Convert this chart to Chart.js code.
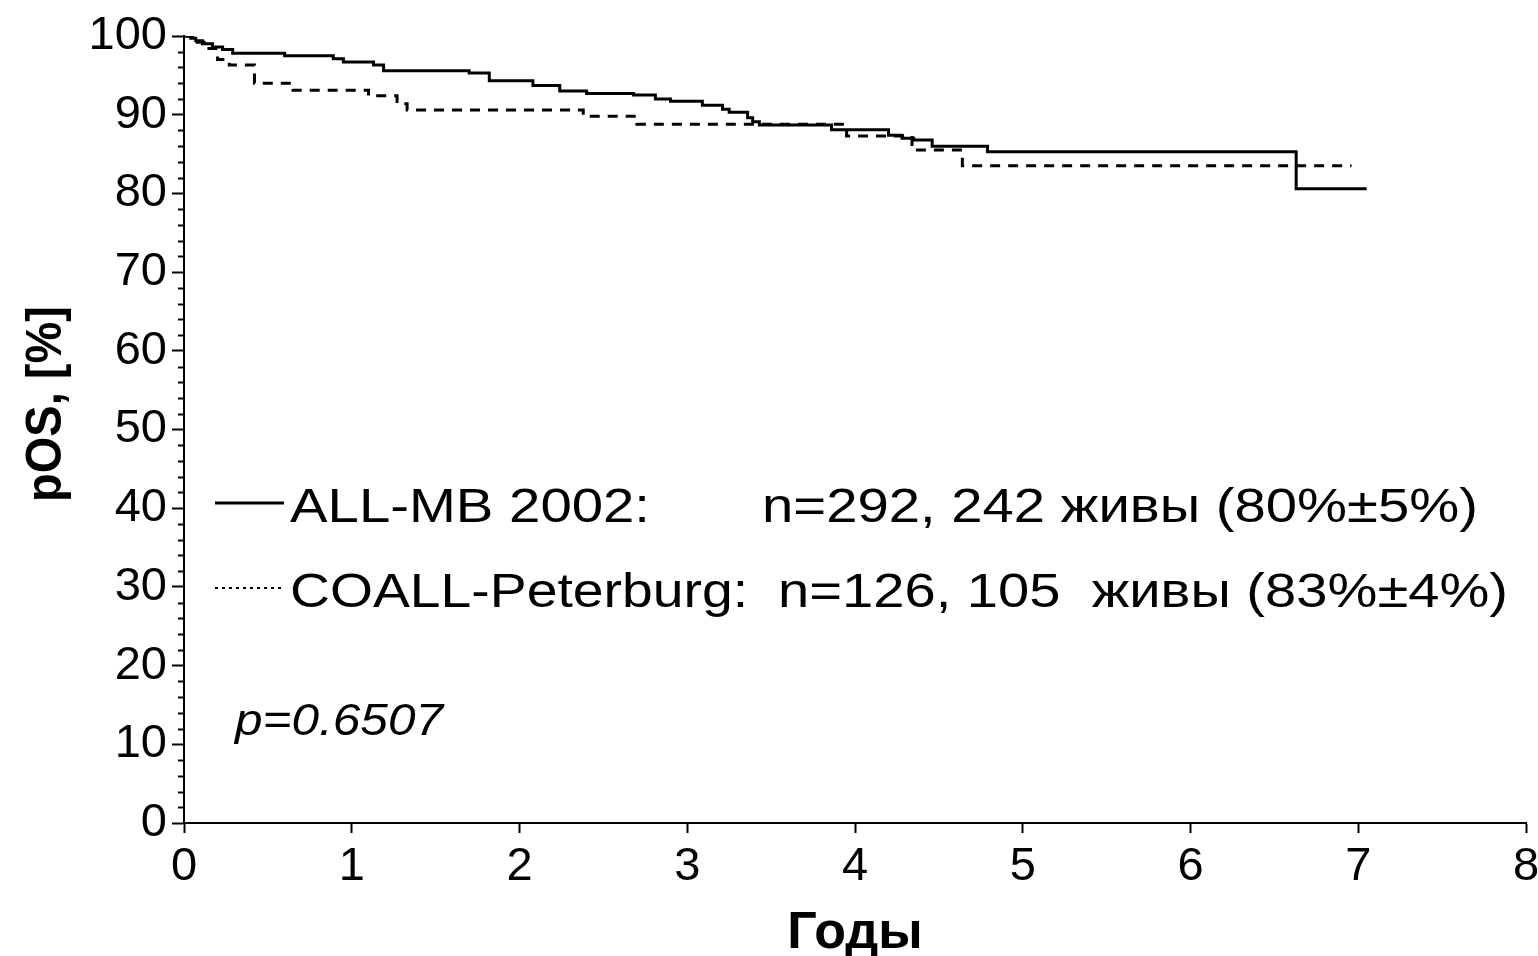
<!DOCTYPE html>
<html lang="ru">
<head>
<meta charset="utf-8">
<title>pOS</title>
<script src="https://cdn.jsdelivr.net/npm/chart.js@4/dist/chart.umd.min.js"></script>
<style>
  html, body { margin: 0; padding: 0; background: #fff; }
</style>
</head>
<body>
<canvas id="chart" width="1538" height="956"></canvas>
<script>
// ALL-MB 2002 curve (years, survival %)
const timeAllMb = [0, 0.04, 0.07, 0.11, 0.17, 0.23, 0.29, 0.60, 0.89, 0.95, 1.13, 1.19, 1.70, 1.82, 2.08, 2.24, 2.40, 2.68, 2.81, 2.90, 3.09, 3.21, 3.25, 3.36, 3.39, 3.43, 3.86, 4.20, 4.28, 4.35, 4.46, 4.79, 6.63, 7.05];
const survAllMb = [100, 99.7, 99.4, 99.0, 98.6, 98.3, 97.8, 97.5, 97.1, 96.7, 96.3, 95.6, 95.3, 94.3, 93.7, 93.0, 92.7, 92.5, 92.0, 91.7, 91.2, 90.7, 90.3, 89.6, 89.1, 88.7, 88.1, 87.4, 87.0, 86.8, 86.0, 85.3, 80.6, 80.6];

// COALL-Peterburg curve
const timeCoall = [0, 0.06, 0.12, 0.20, 0.27, 0.42, 0.65, 1.10, 1.27, 1.33, 2.38, 2.70, 3.95, 4.34, 4.64, 6.96];
const survCoall = [100, 99.2, 98.4, 97.0, 96.3, 94.0, 93.1, 92.4, 91.4, 90.6, 89.8, 88.8, 87.3, 85.5, 83.5, 83.5];

const legendLabels = ['ALL-MB 2002:', 'COALL-Peterburg:'];
const legendStats = ['n=292, 242 живы (80%±5%)', 'n=126, 105  живы (83%±4%)'];
const pValueText = 'p=0.6507';
const xTitle = 'Годы';
const yTitle = 'pOS, [%]';

const FONT = "'Liberation Sans', Arial, sans-serif";

function toPoints(xs, ys) {
    return xs.map((x, i) => ({ x: x, y: ys[i] }));
}

// draw text squeezed/stretched to a given width
function fitText(ctx, text, x, y, w) {
    const m = ctx.measureText(text).width;
    ctx.save();
    ctx.translate(x, y);
    ctx.scale(w / m, 1);
    ctx.fillText(text, 0, 0);
    ctx.restore();
}

const overlay = {
    id: 'overlay',
    afterDraw(chart) {
        const ctx = chart.ctx;
        const yScale = chart.scales.y;
        const left = yScale.right;

        // minor ticks every 2 %
        ctx.save();
        ctx.strokeStyle = '#000';
        ctx.lineWidth = 2;
        for (let v = 2; v < 100; v += 2) {
            if (v % 10 === 0) continue;
            const py = Math.round(yScale.getPixelForValue(v)) + 0.5;
            ctx.beginPath();
            ctx.moveTo(left - 6, py);
            ctx.lineTo(left, py);
            ctx.stroke();
        }
        ctx.restore();

        // y axis title, rotated
        ctx.save();
        ctx.fillStyle = '#000';
        ctx.font = 'bold 50px ' + FONT;
        ctx.textAlign = 'left';
        ctx.textBaseline = 'alphabetic';
        ctx.translate(61, 502);
        ctx.rotate(-Math.PI / 2);
        fitText(ctx, yTitle, 0, 0, 196);
        ctx.restore();

        // legend inside the plot
        const rows = [
            { y: 503, base: 522, labelW: 360, statsX: 762, statsW: 716 },
            { y: 588, base: 607, labelW: 458, statsX: 778, statsW: 730 }
        ];
        ctx.save();
        ctx.fillStyle = '#000';
        ctx.font = '48px ' + FONT;
        ctx.textBaseline = 'alphabetic';
        rows.forEach((r, i) => {
            ctx.strokeStyle = '#000';
            ctx.lineWidth = i === 0 ? 3 : 2;
            ctx.setLineDash(i === 0 ? [] : [3, 4]);
            ctx.beginPath();
            ctx.moveTo(215, r.y);
            ctx.lineTo(284, r.y);
            ctx.stroke();
            ctx.setLineDash([]);
            fitText(ctx, legendLabels[i], 290, r.base, r.labelW);
            fitText(ctx, legendStats[i], r.statsX, r.base, r.statsW);
        });

        ctx.font = 'italic 44px ' + FONT;
        fitText(ctx, pValueText, 235, 735, 208);
        ctx.restore();
    }
};

const ctx = document.getElementById('chart').getContext('2d');
new Chart(ctx, {
    type: 'line',
    data: {
        datasets: [
            {
                label: legendLabels[0],
                data: toPoints(timeAllMb, survAllMb),
                stepped: true,
                borderColor: '#000',
                borderWidth: 3,
                pointRadius: 0,
                fill: false
            },
            {
                label: legendLabels[1],
                data: toPoints(timeCoall, survCoall),
                stepped: true,
                borderColor: '#000',
                borderWidth: 3,
                borderDash: [10, 8],
                pointRadius: 0,
                fill: false
            }
        ]
    },
    options: {
        responsive: false,
        animation: false,
        events: [],
        layout: { padding: { top: 36, right: 12, left: 0, bottom: 0 } },
        plugins: {
            legend: { display: false },
            tooltip: { enabled: false }
        },
        scales: {
            x: {
                type: 'linear',
                min: 0,
                max: 8,
                afterFit: s => {
                    s.height = 133;
                    s.paddingLeft = 0;
                    s.paddingRight = 0;
                },
                ticks: {
                    stepSize: 1,
                    color: '#000',
                    padding: 6,
                    font: { family: FONT, size: 47 }
                },
                grid: { drawOnChartArea: false, tickLength: 10, color: '#000', tickWidth: 2 },
                border: { color: '#000', width: 2 },
                title: {
                    display: true,
                    text: xTitle,
                    color: '#000',
                    padding: { top: 0, bottom: -9 },
                    font: { family: FONT, size: 52, weight: 'bold' }
                }
            },
            y: {
                min: 0,
                max: 100,
                afterFit: s => { s.width = 184; },
                ticks: {
                    stepSize: 10,
                    color: '#000',
                    padding: 5,
                    font: { family: FONT, size: 47 }
                },
                grid: { drawOnChartArea: false, tickLength: 12, color: '#000', tickWidth: 2 },
                border: { color: '#000', width: 2 }
            }
        }
    },
    plugins: [overlay]
});
</script>
</body>
</html>
